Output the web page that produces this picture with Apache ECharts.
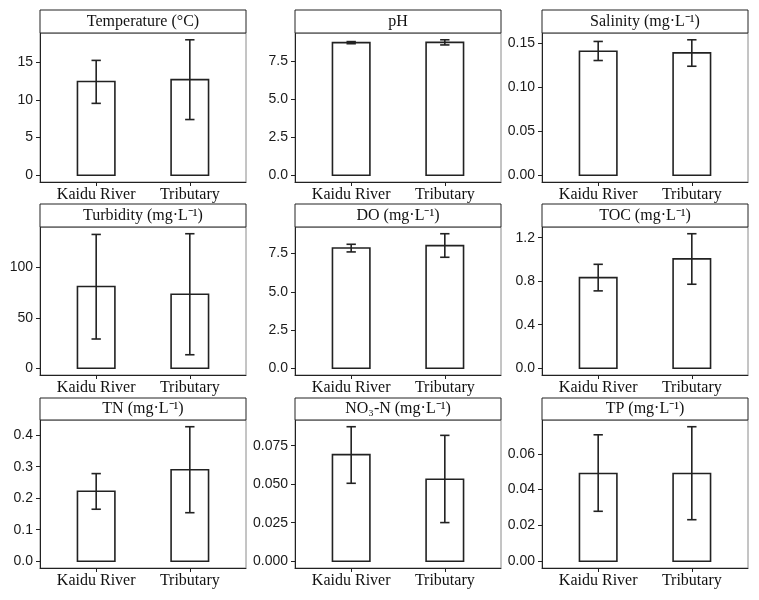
<!DOCTYPE html>
<html>
<head>
<meta charset="utf-8">
<script src="https://cdn.jsdelivr.net/npm/echarts@6/dist/echarts.min.js"></script>
<style>html,body{margin:0;padding:0;background:#fff}#c{width:759px;height:600px}</style>
</head>
<body>
<div id="c"></div>
<script>
// ---- data ----
const categories = ['Kaidu River', 'Tributary'];
const panelTitles = ['Temperature (°C)', 'pH', 'Salinity (mg·L⁻¹)', 'Turbidity (mg·L⁻¹)', 'DO (mg·L⁻¹)', 'TOC (mg·L⁻¹)', 'TN (mg·L⁻¹)', 'NO₃-N (mg·L⁻¹)', 'TP (mg·L⁻¹)'];
const meanValues = [
  [12.45, 12.7],
  [8.74, 8.76],
  [0.1405, 0.1387],
  [81.0, 73.3],
  [7.87, 8.02],
  [0.833, 1.005],
  [0.222, 0.290],
  [0.0692, 0.0532],
  [0.0490, 0.0490]
];
const lowValues = [
  [9.55, 7.4],
  [8.67, 8.59],
  [0.130, 0.1235],
  [29.0, 13.4],
  [7.61, 7.26],
  [0.711, 0.772],
  [0.165, 0.154],
  [0.0506, 0.0251],
  [0.0279, 0.0232]
];
const highValues = [
  [15.26, 18.0],
  [8.81, 8.93],
  [0.1516, 0.1535],
  [132.6, 133.3],
  [8.11, 8.80],
  [0.955, 1.236],
  [0.278, 0.4266],
  [0.0873, 0.0817],
  [0.0706, 0.0751]
];
const yTicks = [
  [0, 5, 10, 15],
  [0, 2.5, 5, 7.5],
  [0, 0.05, 0.10, 0.15],
  [0, 50, 100],
  [0, 2.5, 5, 7.5],
  [0, 0.4, 0.8, 1.2],
  [0, 0.1, 0.2, 0.3, 0.4],
  [0, 0.025, 0.050, 0.075],
  [0, 0.02, 0.04, 0.06]
];
const tickDecimals = [0, 1, 2, 0, 1, 1, 1, 3, 2];

// ---- layout ----
const colLefts = [40, 295, 542];
const panelWidth = 206;
const rowTops = [33, 227, 420];
const rowHeights = [149, 148, 148];
const stripHeights = [23, 23, 22];
const ink = '#222';

const chart = echarts.init(document.getElementById('c'), null, {renderer: 'canvas'});
const grids = [], xAxes = [], yAxes = [], series = [], graphics = [];

for (let i = 0; i < 9; i++) {
  const r = Math.floor(i / 3), c = i % 3;
  const left = colLefts[c], top = rowTops[r], h = rowHeights[r];
  grids.push({left: left, top: top, width: panelWidth, height: h, show: true, borderColor: '#8a8a8a', borderWidth: 1, backgroundColor: '#fff'});
  xAxes.push({
    type: 'value', gridIndex: i, min: 0.4, max: 2.6,
    splitLine: {show: false},
    axisLine: {show: true, onZero: false, lineStyle: {color: ink, width: 1}},
    axisTick: {show: true, length: 4, customValues: [1, 2], lineStyle: {color: ink}},
    axisLabel: {customValues: [1, 2], margin: 5, formatter: v => categories[Math.round(v) - 1] || '',
      fontFamily: '"Liberation Serif", "Times New Roman", serif', fontSize: 16, color: '#111'}
  });
  const hiMax = Math.max(...highValues[i]);
  const dec = tickDecimals[i];
  yAxes.push({
    type: 'value', gridIndex: i, min: -0.05 * hiMax, max: 1.05 * hiMax,
    splitLine: {show: false},
    axisLine: {show: true, onZero: false, lineStyle: {color: ink, width: 1}},
    axisTick: {show: true, length: 4, customValues: yTicks[i], lineStyle: {color: ink}},
    axisLabel: {customValues: yTicks[i], margin: 7, formatter: v => Number(v).toFixed(dec),
      fontFamily: '"Liberation Sans", Arial, sans-serif', fontSize: 14, color: '#1a1a1a'}
  });
  const data = categories.map((_, k) => [k + 1, meanValues[i][k], lowValues[i][k], highValues[i][k]]);
  series.push({
    type: 'custom', xAxisIndex: i, yAxisIndex: i, data: data,
    encode: {x: 0, y: [1, 2, 3]},
    clip: false,
    renderItem: function (params, api) {
      const x = api.value(0), m = api.value(1), lo = api.value(2), hi = api.value(3);
      const a = api.coord([x - 0.2, 0]);
      const b = api.coord([x + 0.2, m]);
      const pLo = api.coord([x, lo]), pHi = api.coord([x, hi]);
      const capL = api.coord([x - 0.05, lo])[0], capR = api.coord([x + 0.05, lo])[0];
      const st = {stroke: ink, lineWidth: 1.6, fill: null};
      return {type: 'group', children: [
        {type: 'rect', shape: {x: a[0], y: b[1], width: b[0] - a[0], height: a[1] - b[1]}, style: {fill: '#fff', stroke: ink, lineWidth: 1.6}},
        {type: 'line', shape: {x1: pLo[0], y1: pLo[1], x2: pHi[0], y2: pHi[1]}, style: st},
        {type: 'line', shape: {x1: capL, y1: pLo[1], x2: capR, y2: pLo[1]}, style: st},
        {type: 'line', shape: {x1: capL, y1: pHi[1], x2: capR, y2: pHi[1]}, style: st}
      ]};
    }
  });
  const sh = stripHeights[r];
  graphics.push({
    type: 'rect', shape: {x: left, y: top - sh, width: panelWidth, height: sh},
    style: {fill: '#fff', stroke: ink, lineWidth: 1}, z: 10
  });
  graphics.push({
    type: 'text', x: left + panelWidth / 2, y: top - sh / 2, z: 11,
    style: {text: panelTitles[i], fontFamily: '"Liberation Serif", "Times New Roman", serif', fontSize: 16,
      fill: '#111', align: 'center', verticalAlign: 'middle'}
  });
}

chart.setOption({
  animation: false,
  backgroundColor: '#fff',
  grid: grids, xAxis: xAxes, yAxis: yAxes, series: series, graphic: graphics
});
</script>
</body>
</html>
